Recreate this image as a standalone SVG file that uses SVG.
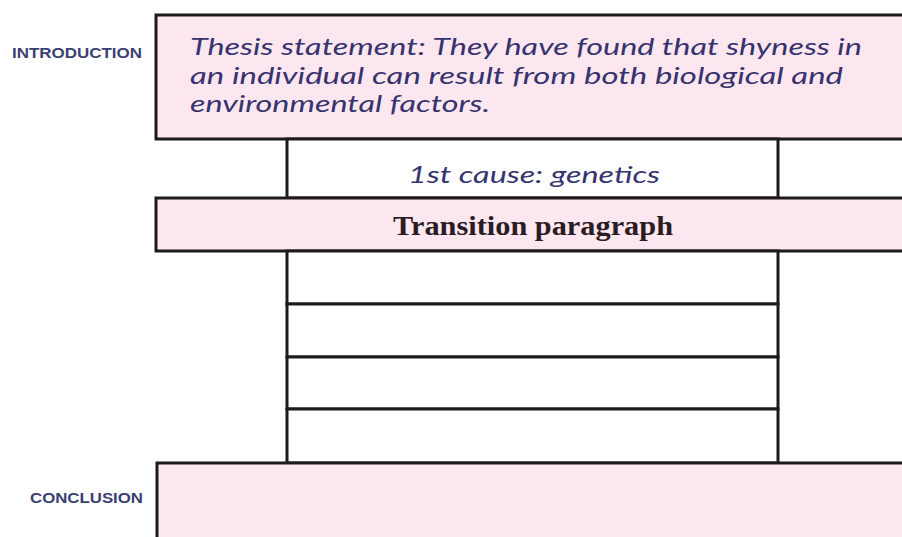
<svg xmlns="http://www.w3.org/2000/svg" width="902" height="537" viewBox="0 0 902 537">
<style>
  .pink { fill: #fce6ef; stroke: #1c1a1c; stroke-width: 3; }
  .cell { fill: #ffffff; stroke: #1c1a1c; stroke-width: 3; }
  .hand { font-family: Lato, "Open Sans", sans-serif; font-style: italic; font-size: 24px; fill: #36336e; }
  .label { font-family: "Liberation Sans", Arial, sans-serif; font-weight: bold; font-size: 14px; fill: #3b3f72; }
  .serif { font-family: "Liberation Serif", "Times New Roman", serif; font-weight: bold; font-size: 27px; fill: #2a1c22; }
</style>
<rect width="902" height="537" fill="#ffffff"/>
<g id="connectors"></g>
<g id="intro-label">
  <text class="label" x="12" y="58" textLength="130" lengthAdjust="spacingAndGlyphs">INTRODUCTION</text>
</g>
<g id="introduction">
  <rect class="pink" x="156" y="15" width="760" height="124"/>
  <text class="hand" x="190" y="55" textLength="672" lengthAdjust="spacingAndGlyphs">Thesis statement: They have found that shyness in</text>
  <text class="hand" x="190" y="84" textLength="653" lengthAdjust="spacingAndGlyphs">an individual can result from both biological and</text>
  <text class="hand" x="190" y="112" textLength="300" lengthAdjust="spacingAndGlyphs">environmental factors.</text>
</g>
<g id="cause1">
  <rect class="cell" x="287" y="139" width="491" height="59"/>
  <text class="hand" x="408" y="183" textLength="252" lengthAdjust="spacingAndGlyphs">1st cause: genetics</text>
</g>
<g id="transition">
  <rect class="pink" x="156" y="198" width="760" height="53"/>
  <text class="serif" x="393" y="235" textLength="280" lengthAdjust="spacingAndGlyphs">Transition paragraph</text>
</g>
<g id="body-row-1"><rect class="cell" x="287" y="251" width="491" height="53"/></g>
<g id="body-row-2"><rect class="cell" x="287" y="304" width="491" height="53"/></g>
<g id="body-row-3"><rect class="cell" x="287" y="357" width="491" height="52"/></g>
<g id="body-row-4"><rect class="cell" x="287" y="409" width="491" height="54"/></g>
<g id="conclusion-label">
  <text class="label" x="30" y="503" textLength="113" lengthAdjust="spacingAndGlyphs">CONCLUSION</text>
</g>
<g id="conclusion">
  <rect class="pink" x="157" y="463" width="760" height="90"/>
</g>
</svg>
